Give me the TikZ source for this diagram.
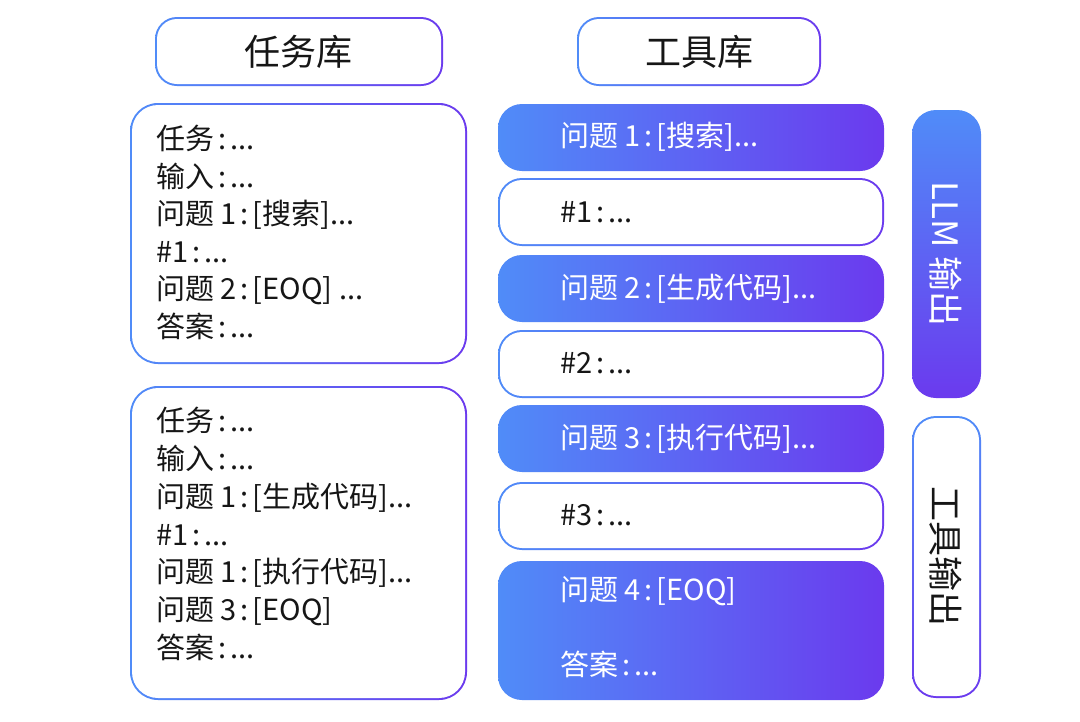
\documentclass[tikz,border=0pt]{standalone}
\usepackage{fontspec}
\setmainfont{Noto Sans CJK SC}
\definecolor{gblue}{RGB}{80,140,248}
\definecolor{gpurple}{RGB}{107,58,238}
\definecolor{ink}{RGB}{22,22,22}
\newcommand{\cc}{\hspace{4pt}:\hspace{4pt}}
% gradient-bordered white box: x1 y1 x2 y2 outer-radius inner-radius
\newcommand{\hframe}[6]{%
  \shade[left color=gblue,right color=gpurple,rounded corners=#5] (#1,#2) rectangle (#3,#4);
  \fill[white,rounded corners=#6] (#1+2,#2+2) rectangle (#3-2,#4-2);}
\newcommand{\vframe}[6]{%
  \shade[top color=gblue,bottom color=gpurple,rounded corners=#5] (#1,#2) rectangle (#3,#4);
  \fill[white,rounded corners=#6] (#1+2,#2+2) rectangle (#3-2,#4-2);}
\newcommand{\hfilled}[5]{%
  \shade[left color=gblue,right color=gpurple,rounded corners=#5] (#1,#2) rectangle (#3,#4);}
\newcommand{\vfilled}[5]{%
  \shade[top color=gblue,bottom color=gpurple,rounded corners=#5] (#1,#2) rectangle (#3,#4);}
\begin{document}
\begin{tikzpicture}[x=1pt,y=-1pt,
  txt/.style={font=\fontsize{29}{32}\selectfont,text=ink,inner sep=0pt,anchor=base west},
  wtxt/.style={txt,text=white},
  ttl/.style={font=\fontsize{36}{40}\selectfont,text=ink,inner sep=0pt},
  vtxt/.style={font=\fontsize{35}{38}\selectfont,inner sep=0pt,rotate=-90}]
\useasboundingbox (0,0) rectangle (1080,721);
\fill[white] (0,0) rectangle (1080,721);

% titles
\hframe{155}{17}{443}{86}{22pt}{20pt}
\node[ttl] (t1) at (298,52) {任务库};
\hframe{577}{17}{821}{86}{22pt}{20pt}
\node[ttl] (t2) at (699,52) {工具库};

% left boxes
\hframe{130}{103}{467}{364}{28pt}{26pt}
\node[txt] (a1) at (156,149.5) {任务\cc...};
\node[txt] (a2) at (156,187) {输入\cc...};
\node[txt] (a3) at (156,224.5) {问题 1\cc[搜索]...};
\node[txt] (a4) at (156,262) {\#1\cc...};
\node[txt] (a5) at (156,299.5) {问题 2\cc[EOQ] ...};
\node[txt] (a6) at (156,337) {答案\cc...};

\hframe{130}{386}{467}{700}{28pt}{26pt}
\node[txt] (b1) at (156,431) {任务\cc...};
\node[txt] (b2) at (156,469) {输入\cc...};
\node[txt] (b3) at (156,507) {问题 1\cc[生成代码]...};
\node[txt] (b4) at (156,545) {\#1\cc...};
\node[txt] (b5) at (156,582) {问题 1\cc[执行代码]...};
\node[txt] (b6) at (156,620) {问题 3\cc[EOQ]};
\node[txt] (b7) at (156,658) {答案\cc...};

% right column
\hfilled{498}{104}{884}{171}{24pt}
\node[wtxt] (c1) at (560,146) {问题 1\cc[搜索]...};
\hframe{498}{178}{884}{246}{24pt}{22pt}
\node[txt] (c2) at (560,222) {\#1\cc...};
\hfilled{498}{255}{884}{322}{24pt}
\node[wtxt] (c3) at (560,298) {问题 2\cc[生成代码]...};
\hframe{498}{330}{884}{398}{24pt}{22pt}
\node[txt] (c4) at (560,373) {\#2\cc...};
\hfilled{498}{405}{884}{472}{24pt}
\node[wtxt] (c5) at (560,448) {问题 3\cc[执行代码]...};
\hframe{498}{482}{884}{550}{24pt}{22pt}
\node[txt] (c6) at (560,525) {\#3\cc...};
\hfilled{498}{561}{884}{700}{24pt}
\node[wtxt] (c7) at (560,600) {问题 4\cc[EOQ]};
\node[wtxt] (c8) at (560,675) {答案\cc...};

% vertical labels
\vfilled{912}{110}{981}{398}{24pt}
\node[vtxt,text=white] (v1) at (946,254) {LLM 输出};
\vframe{912}{416}{981}{698}{24pt}{22pt}
\node[vtxt,text=ink] (v2) at (946,556) {工具输出};
\end{tikzpicture}
\end{document}
